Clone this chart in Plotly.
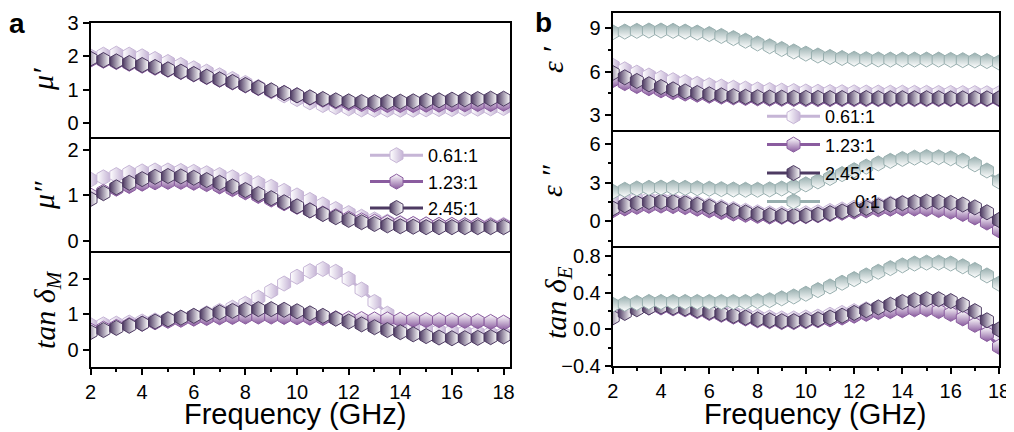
import plotly.graph_objects as go

# ---------------- data ----------------
freq = [2.0, 2.5, 3.0, 3.5, 4.0, 4.5, 5.0, 5.5, 6.0, 6.5, 7.0, 7.5, 8.0, 8.5, 9.0, 9.5,
        10.0, 10.5, 11.0, 11.5, 12.0, 12.5, 13.0, 13.5, 14.0, 14.5, 15.0, 15.5, 16.0,
        16.5, 17.0, 17.5, 18.0]

series_names = ["0.61:1", "1.23:1", "2.45:1", "0:1"]

# mu'
mu1_061 = [2.0, 2.05, 2.08, 2.05, 2.0, 1.92, 1.83, 1.74, 1.64, 1.54, 1.43, 1.32, 1.2, 1.08, 0.95, 0.83,
           0.72, 0.62, 0.54, 0.48, 0.44, 0.41, 0.4, 0.4, 0.4, 0.4, 0.41, 0.42, 0.42, 0.43, 0.43, 0.44, 0.45]
mu1_123 = [1.9, 1.87, 1.83, 1.78, 1.72, 1.66, 1.6, 1.53, 1.46, 1.38, 1.3, 1.22, 1.13, 1.05, 0.97, 0.9,
           0.83, 0.76, 0.7, 0.65, 0.6, 0.57, 0.55, 0.54, 0.54, 0.54, 0.55, 0.55, 0.56, 0.56, 0.57, 0.57, 0.58]
mu1_245 = [1.93, 1.89, 1.85, 1.8, 1.74, 1.68, 1.61, 1.54, 1.47, 1.39, 1.31, 1.23, 1.14, 1.06, 0.98, 0.9,
           0.83, 0.77, 0.72, 0.68, 0.65, 0.63, 0.62, 0.63, 0.64, 0.65, 0.67, 0.68, 0.7, 0.71, 0.72, 0.73, 0.73]

# mu''
mu2_061 = [1.35, 1.4, 1.45, 1.5, 1.53, 1.55, 1.55, 1.54, 1.52, 1.49, 1.45, 1.4, 1.34, 1.27, 1.19, 1.1,
           1.0, 0.9, 0.8, 0.7, 0.61, 0.53, 0.47, 0.42, 0.39, 0.37, 0.36, 0.35, 0.35, 0.35, 0.35, 0.35, 0.35]
mu2_123 = [1.0, 1.08, 1.15, 1.21, 1.26, 1.29, 1.3, 1.3, 1.28, 1.25, 1.2, 1.14, 1.07, 0.99, 0.91, 0.83,
           0.75, 0.67, 0.6, 0.54, 0.49, 0.45, 0.42, 0.4, 0.38, 0.37, 0.36, 0.35, 0.35, 0.34, 0.34, 0.33, 0.33]
mu2_245 = [0.92, 1.05, 1.18, 1.28, 1.36, 1.41, 1.43, 1.42, 1.39, 1.34, 1.28, 1.2, 1.12, 1.03, 0.94, 0.85,
           0.76, 0.67, 0.59, 0.52, 0.46, 0.41, 0.37, 0.34, 0.32, 0.31, 0.3, 0.3, 0.3, 0.3, 0.3, 0.3, 0.3]

# tan delta_M
tm_061 = [0.7, 0.72, 0.74, 0.77, 0.8, 0.83, 0.87, 0.91, 0.96, 1.03, 1.1, 1.19, 1.3, 1.47, 1.66, 1.87,
          2.06, 2.22, 2.28, 2.2, 2.0, 1.7, 1.35, 1.02, 0.78, 0.65, 0.58, 0.54, 0.52, 0.5, 0.48, 0.46, 0.45]
tm_123 = [0.55, 0.6, 0.65, 0.7, 0.74, 0.78, 0.82, 0.85, 0.88, 0.9, 0.92, 0.93, 0.94, 0.94, 0.94, 0.93,
          0.92, 0.91, 0.9, 0.89, 0.88, 0.87, 0.86, 0.86, 0.85, 0.85, 0.84, 0.84, 0.83, 0.82, 0.81, 0.79, 0.77]
tm_245 = [0.5, 0.56, 0.62, 0.68, 0.74, 0.8, 0.86, 0.91, 0.96, 1.01, 1.06, 1.1, 1.13, 1.15, 1.15, 1.13,
          1.09, 1.03, 0.96, 0.88, 0.8, 0.72, 0.64, 0.56, 0.5, 0.44, 0.39, 0.35, 0.33, 0.33, 0.34, 0.36, 0.38]

# epsilon'
e1_061 = [6.4, 6.15, 5.92, 5.72, 5.55, 5.4, 5.27, 5.15, 5.05, 4.96, 4.88, 4.82, 4.76, 4.72, 4.68, 4.65,
          4.62, 4.6, 4.58, 4.57, 4.56, 4.55, 4.55, 4.54, 4.54, 4.53, 4.53, 4.52, 4.52, 4.51, 4.51, 4.5, 4.5]
e1_123 = [5.4, 5.2, 5.0, 4.85, 4.7, 4.58, 4.48, 4.4, 4.33, 4.27, 4.22, 4.18, 4.15, 4.13, 4.12, 4.11,
          4.1, 4.1, 4.1, 4.1, 4.1, 4.1, 4.1, 4.1, 4.1, 4.1, 4.1, 4.1, 4.1, 4.1, 4.1, 4.1, 4.1]
e1_245 = [5.9, 5.6, 5.35, 5.12, 4.93, 4.77, 4.63, 4.52, 4.43, 4.36, 4.3, 4.26, 4.23, 4.21, 4.2, 4.19,
          4.18, 4.18, 4.17, 4.17, 4.17, 4.17, 4.16, 4.16, 4.16, 4.16, 4.16, 4.16, 4.15, 4.15, 4.15, 4.15, 4.15]
e1_0 = [8.7, 8.75, 8.8, 8.82, 8.82, 8.8, 8.75, 8.68, 8.58, 8.45, 8.3, 8.12, 7.93, 7.74, 7.55, 7.38,
        7.23, 7.1, 7.0, 6.93, 6.88, 6.85, 6.83, 6.82, 6.82, 6.82, 6.82, 6.82, 6.8, 6.78, 6.76, 6.72, 6.62]

# epsilon''
e2_061 = [1.6, 1.65, 1.7, 1.72, 1.7, 1.63, 1.53, 1.4, 1.25, 1.1, 0.95, 0.82, 0.7, 0.62, 0.58, 0.58,
          0.62, 0.7, 0.8, 0.92, 1.05, 1.17, 1.28, 1.37, 1.43, 1.45, 1.43, 1.37, 1.27, 1.1, 0.85, 0.5, 0.0]
e2_123 = [0.85, 1.0, 1.12, 1.2, 1.22, 1.18, 1.1, 0.98, 0.85, 0.72, 0.6, 0.5, 0.42, 0.37, 0.35, 0.36,
          0.4, 0.47, 0.56, 0.66, 0.76, 0.85, 0.93, 0.98, 1.0, 0.99, 0.95, 0.87, 0.75, 0.57, 0.3, -0.1, -0.7]
e2_245 = [1.0, 1.25, 1.42, 1.5, 1.52, 1.48, 1.4, 1.28, 1.13, 0.97, 0.82, 0.68, 0.56, 0.47, 0.42, 0.41,
          0.44, 0.52, 0.63, 0.76, 0.9, 1.04, 1.17, 1.3, 1.4, 1.48, 1.52, 1.5, 1.43, 1.3, 1.08, 0.7, 0.1]
e2_0 = [2.3, 2.45, 2.55, 2.6, 2.62, 2.62, 2.6, 2.57, 2.53, 2.5, 2.47, 2.45, 2.45, 2.48, 2.55, 2.68,
        2.87, 3.1, 3.37, 3.67, 3.97, 4.25, 4.5, 4.7, 4.85, 4.95, 5.0, 4.98, 4.9, 4.72, 4.43, 3.95, 3.1]

# tan delta_E
te_061 = [0.24, 0.26, 0.27, 0.28, 0.28, 0.27, 0.26, 0.24, 0.22, 0.2, 0.18, 0.16, 0.14, 0.13, 0.12, 0.12,
          0.13, 0.14, 0.16, 0.18, 0.2, 0.22, 0.24, 0.26, 0.27, 0.28, 0.28, 0.27, 0.25, 0.21, 0.15, 0.06, -0.06]
te_123 = [0.17, 0.2, 0.23, 0.24, 0.24, 0.23, 0.22, 0.2, 0.18, 0.16, 0.14, 0.12, 0.1, 0.09, 0.08, 0.08,
          0.09, 0.1, 0.11, 0.13, 0.15, 0.17, 0.19, 0.2, 0.21, 0.22, 0.22, 0.2, 0.17, 0.12, 0.05, -0.05, -0.19]
te_245 = [0.13, 0.18, 0.22, 0.24, 0.25, 0.24, 0.23, 0.21, 0.19, 0.17, 0.15, 0.13, 0.11, 0.1, 0.09, 0.09,
          0.1, 0.11, 0.13, 0.15, 0.18, 0.21, 0.24, 0.27, 0.3, 0.32, 0.33, 0.33, 0.31, 0.27, 0.2, 0.1, 0.0]
te_0 = [0.27, 0.28, 0.29, 0.3, 0.3, 0.3, 0.3, 0.3, 0.3, 0.3, 0.3, 0.3, 0.31, 0.32, 0.34, 0.36,
        0.39, 0.43, 0.47, 0.51, 0.55, 0.59, 0.63, 0.67, 0.7, 0.72, 0.73, 0.73, 0.72, 0.69, 0.65, 0.59, 0.5]

# ---------------- styling ----------------
VIEW_W, VIEW_H = 1014, 432
OFF = 8                      # default page margin of the html body
W, H = VIEW_W - OFF, VIEW_H - OFF
C = {"0.61:1": "#C6B5D6", "1.23:1": "#8A5C9F", "2.45:1": "#4D3A62", "0:1": "#98AFAF"}
# (fill colour, gradient colour, gradient type) -> half-filled hexagons
GRAD = {
    "0.61:1": ("white", C["0.61:1"], "horizontal"),
    "1.23:1": ("white", C["1.23:1"], "vertical"),
    "2.45:1": (C["2.45:1"], "white", "horizontal"),
    "0:1": (C["0:1"], "white", "vertical"),
}
LEG_LABEL = {"0.61:1": "0.61:1", "1.23:1": "1.23:1", "2.45:1": "2.45:1",
             "0:1": "\u00a0\u00a0\u00a0\u00a0\u00a0\u00a00:1"}

def px_x(p):
    return (p - OFF) / W

def px_y(p):
    return 1 - (p - OFF) / H

fig = go.Figure()

panels = [
    (1, {"0.61:1": mu1_061, "1.23:1": mu1_123, "2.45:1": mu1_245}, None),
    (2, {"0.61:1": mu2_061, "1.23:1": mu2_123, "2.45:1": mu2_245}, "legend"),
    (3, {"0.61:1": tm_061, "1.23:1": tm_123, "2.45:1": tm_245}, None),
    (4, {"0.61:1": e1_061, "1.23:1": e1_123, "2.45:1": e1_245, "0:1": e1_0}, "legend2"),
    (5, {"0.61:1": e2_061, "1.23:1": e2_123, "2.45:1": e2_245, "0:1": e2_0}, None),
    (6, {"0.61:1": te_061, "1.23:1": te_123, "2.45:1": te_245, "0:1": te_0}, None),
]

for idx, sers, leg in panels:
    ax = "" if idx == 1 else str(idx)
    for name, vals in sers.items():
        fc, gc, gt = GRAD[name]
        fig.add_trace(go.Scatter(
            x=freq, y=vals, mode="lines+markers",
            name=LEG_LABEL[name],
            legendgroup=name if leg == "legend2" else None,
            xaxis="x" + ax, yaxis="y" + ax,
            line=dict(color=C[name], width=3),
            marker=dict(symbol="hexagon", size=15, color=fc,
                        gradient=dict(type=gt, color=gc),
                        line=dict(color=C[name], width=1)),
            showlegend=leg is not None,
            legend=leg if leg else "legend",
        ))

# ---------------- axes ----------------
FONT = "Liberation Sans, Arial, sans-serif"
tickfont = dict(family=FONT, size=20, color="black")

a_x = [90.5, 510]
b_x = [612.7, 999]
a_rows = [(23, 137), (137, 253), (253, 367)]
b_rows = [(13, 130), (130, 248), (248, 366)]

y_specs = {
    1: dict(range=[-0.42, 3.0], dtick=1, tick0=0, minor=None, fmt=None),
    2: dict(range=[-0.27, 2.29], dtick=1, tick0=0, minor=None, fmt=None),
    3: dict(range=[-0.48, 2.73], dtick=1, tick0=0, minor=None, fmt=None),
    4: dict(range=[1.97, 10.03], dtick=3, tick0=0, minor=1.5, fmt=None),
    5: dict(range=[-2.08, 7.1], dtick=3, tick0=0, minor=1.5, fmt=None),
    6: dict(range=[-0.4, 0.89], dtick=0.4, tick0=0, minor=0.2, fmt=".1f"),
}

layout_axes = {}
for idx in range(1, 7):
    ax = "" if idx == 1 else str(idx)
    in_a = idx <= 3
    xd = a_x if in_a else b_x
    rows = a_rows if in_a else b_rows
    top, bot = rows[(idx - 1) % 3]
    is_bottom = idx in (3, 6)
    is_middle = idx in (2, 5)
    xa = dict(
        domain=[px_x(xd[0]), px_x(xd[1])],
        range=[2, 18.25] if in_a else [2, 18],
        anchor="y" + ax,
        showline=not is_middle, linecolor="black", linewidth=2, mirror=True,
        showgrid=False, zeroline=False, automargin=False,
        tick0=2, dtick=2,
        showticklabels=is_bottom,
        ticks="outside" if is_bottom else "",
        ticklen=6, tickwidth=2, tickcolor="black",
        tickfont=tickfont,
    )
    if is_bottom:
        xa["minor"] = dict(ticks="outside", ticklen=3, tickwidth=2, tickcolor="black", dtick=1, tick0=2)
    spec = y_specs[idx]
    ya = dict(
        domain=[px_y(bot), px_y(top)],
        range=spec["range"],
        anchor="x" + ax,
        showline=True, linecolor="black", linewidth=2, mirror=True,
        showgrid=False, zeroline=False, automargin=False,
        tick0=spec["tick0"], dtick=spec["dtick"],
        ticks="outside", ticklen=6, tickwidth=2, tickcolor="black",
        tickfont=tickfont,
    )
    if spec["fmt"]:
        ya["tickformat"] = spec["fmt"]
    if spec["minor"]:
        ya["minor"] = dict(ticks="outside", ticklen=3, tickwidth=2, tickcolor="black",
                           dtick=spec["minor"], tick0=0)
    layout_axes["xaxis" + ax] = xa
    layout_axes["yaxis" + ax] = ya

fig.update_layout(**layout_axes)

# ---------------- annotations ----------------
SERIF = "Liberation Serif, Times New Roman, serif"
ann = []

def add(text, x, y, size, family, angle=0):
    ann.append(dict(text=text, x=px_x(x), y=px_y(y), xref="paper", yref="paper",
                    showarrow=False, textangle=angle, xanchor="center", yanchor="middle",
                    font=dict(family=family, size=size, color="black")))

add("<b>a</b>", 17, 24, 28, FONT)
add("<b>b</b>", 543, 23, 28, FONT)
add("Frequency (GHz)", 295, 414, 29, FONT)
add("Frequency (GHz)", 815, 414, 29, FONT)
add("<i>μ′</i>", 43, 80, 30, SERIF, -90)
add("<i>μ″</i>", 43, 196, 30, SERIF, -90)
add("<i>tan δ<sub>M</sub></i>", 47, 310, 30, SERIF, -90)
add("<i>ε ′</i>", 553, 60, 30, SERIF, -90)
add("<i>ε ″</i>", 552, 181, 30, SERIF, -90)
add("<i>tan δ<sub>E</sub></i>", 558, 303, 30, SERIF, -90)

fig.update_layout(
    width=W, height=H, autosize=False,
    margin=dict(l=0, r=0, t=0, b=0, pad=0, autoexpand=False),
    paper_bgcolor="white", plot_bgcolor="white",
    annotations=ann,
    legend=dict(x=px_x(365), y=px_y(137), xanchor="left", yanchor="top",
                bgcolor="rgba(0,0,0,0)", borderwidth=0, itemwidth=53,
                font=dict(family=FONT, size=18, color="black"), tracegroupgap=0),
    legend2=dict(x=px_x(762), y=px_y(98), xanchor="left", yanchor="top",
                 bgcolor="rgba(0,0,0,0)", borderwidth=0, itemwidth=53,
                 traceorder="grouped", tracegroupgap=2,
                 font=dict(family=FONT, size=18, color="black")),
)

fig.write_html("out.html")
